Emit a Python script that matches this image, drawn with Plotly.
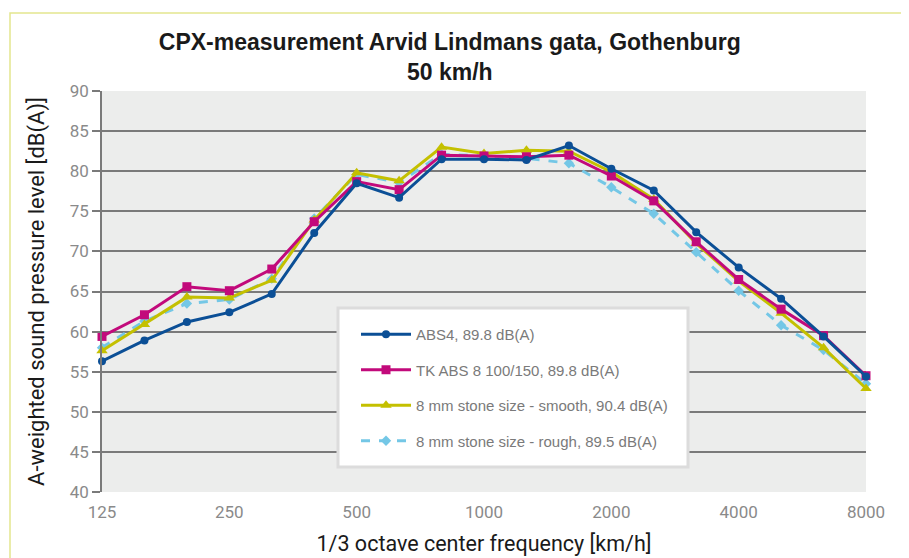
import plotly.graph_objects as go

freqs = ["125", "160", "200", "250", "315", "400", "500", "630", "800", "1000",
         "1250", "1600", "2000", "2500", "3150", "4000", "5000", "6300", "8000"]
tick_labels = ["125", "250", "500", "1000", "2000", "4000", "8000"]

abs4 = [56.3, 58.9, 61.2, 62.4, 64.7, 72.3, 78.5, 76.7, 81.5, 81.5,
        81.4, 83.2, 80.3, 77.6, 72.4, 68.0, 64.1, 59.4, 54.4]
tk_abs8 = [59.4, 62.1, 65.6, 65.1, 67.8, 73.7, 78.7, 77.7, 82.0, 81.9,
           81.8, 82.0, 79.4, 76.3, 71.2, 66.5, 62.8, 59.5, 54.5]
smooth8 = [57.6, 60.9, 64.3, 64.2, 66.4, 73.9, 79.8, 78.8, 83.0, 82.2,
           82.6, 82.5, 79.9, 76.5, 71.0, 66.3, 62.3, 58.0, 52.9]
rough8 = [58.0, 61.3, 63.5, 64.0, 66.6, 74.1, 79.6, 78.6, 82.1, 81.9,
          81.6, 81.0, 78.0, 74.7, 69.9, 65.1, 60.8, 57.7, 53.5]

names = ["ABS4, 89.8 dB(A)", "TK ABS 8 100/150, 89.8 dB(A)",
         "8 mm stone size - smooth, 90.4 dB(A)", "8 mm stone size - rough, 89.5 dB(A)"]

fig = go.Figure()

series = [
    (abs4, names[0], "#0b4f96", "circle", 8, "solid"),
    (tk_abs8, names[1], "#c20a7b", "square", 9, "solid"),
    (smooth8, names[2], "#c4c000", "triangle-up", 10, "solid"),
    (rough8, names[3], "#74c7e6", "diamond", 8, "dash"),
]
order = [3, 2, 1, 0]
for i in order:
    vals, nm, col, sym, sz, dash = series[i]
    fig.add_trace(go.Scatter(
        x=freqs, y=vals, name=nm, mode="lines+markers",
        line=dict(color=col, width=3, dash=dash),
        marker=dict(symbol=sym, size=sz, color=col),
        legendgroup=str(i), legendrank=i + 1, cliponaxis=False,
    ))

FONT = "Roboto, Liberation Sans, sans-serif"

fig.update_layout(
    width=909, height=558,
    margin=dict(l=94, r=51, t=83, b=74),
    paper_bgcolor="white",
    plot_bgcolor="#ecedec",
    title=dict(
        text="<b>CPX-measurement Arvid Lindmans gata, Gothenburg<br>50 km/h</b>",
        x=0.486, xanchor="center", y=0.925, yanchor="middle",
        font=dict(family="Liberation Sans, Arial, sans-serif", size=23, color="#1a1a1a"),
    ),
    xaxis=dict(
        type="category", categoryorder="array", categoryarray=freqs,
        range=[0, 18], tickvals=tick_labels, ticktext=tick_labels,
        showgrid=False, zeroline=False, showline=False,
        tickfont=dict(family=FONT, size=17, color="#8a8a8a"),
        ticklabelstandoff=8,
        title=dict(text="1/3 octave center frequency [km/h]", standoff=14,
                   font=dict(family=FONT, size=21.5, color="#1a1a1a")),
        ticks="",
    ),
    yaxis=dict(
        range=[40, 90], dtick=5, tick0=40,
        showgrid=True, gridcolor="#7a7a7a", gridwidth=1.6,
        zeroline=False, showline=True, linecolor="#7a7a7a", linewidth=1.6,
        ticks="outside", ticklen=8, tickcolor="#7a7a7a", tickwidth=1.6,
        tickfont=dict(family=FONT, size=17, color="#8a8a8a"),
        title=dict(text="A-weighted sound pressure level [dB(A)]", standoff=19,
                   font=dict(family=FONT, size=22, color="#1a1a1a")),
    ),
    legend=dict(
        x=(356 - 102) / 764, y=(492 - 318) / 401, xanchor="left", yanchor="top",
        bgcolor="rgba(0,0,0,0)", borderwidth=0,
        font=dict(family="Liberation Sans, Arial, sans-serif", size=15, color="#7a7a7a"),
        tracegroupgap=13, itemwidth=50,
    ),
    showlegend=True,
)

# legend box
fig.add_shape(type="rect", xref="paper", yref="paper",
              x0=(338 - 102) / 764, x1=(688 - 102) / 764,
              y0=(492 - 467) / 401, y1=(492 - 308) / 401,
              fillcolor="white", line=dict(color="#dcdcdc", width=3), layer="above")
# outer frame
fig.add_shape(type="rect", xref="paper", yref="paper",
              x0=(10 - 102) / 764, x1=(906 - 102) / 764,
              y0=(492 - 600) / 401, y1=(492 - 13) / 401,
              fillcolor="rgba(0,0,0,0)", line=dict(color="#e3e68e", width=1.5), layer="below")

fig.write_html("out.html")
